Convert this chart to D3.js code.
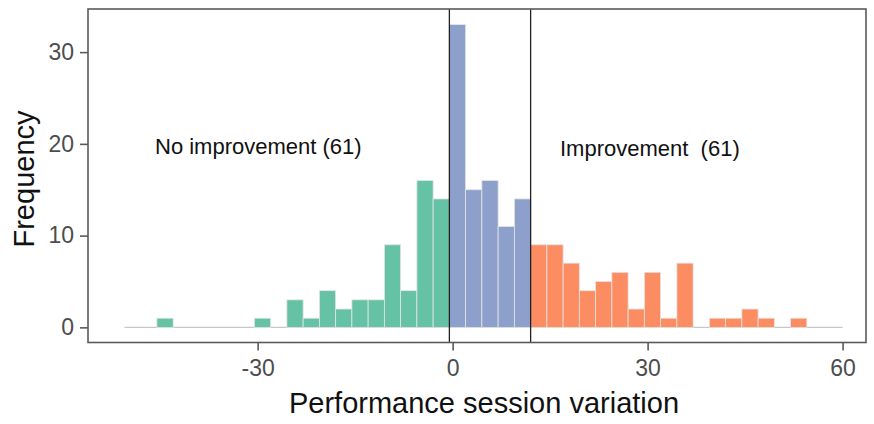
<!DOCTYPE html>
<html>
<head>
<meta charset="utf-8">
<script src="https://cdn.jsdelivr.net/npm/d3@7"></script>
<style>
  body { margin: 0; background: #fff; }
  text { font-family: "Liberation Sans", Arial, sans-serif; }
</style>
</head>
<body>
<svg id="chart"></svg>
<script>
// histogram counts, bin width 2.5
var binWidth = 2.5;
var noImpStart = -45.5;
var noImpCounts = [1, 0, 0, 0, 0, 0, 1, 0, 3, 1, 4, 2, 3, 3, 9, 4, 16, 14];
var midStart = -0.5;
var midCounts = [33, 15, 16, 11, 14];
var impStart = 12;
var impCounts = [9, 9, 7, 4, 5, 6, 2, 6, 1, 7, 0, 1, 1, 2, 1, 0, 1];

var cutoffs = [-0.5, 12];
var baseRange = [-50.5, 60];
var xTicks = [-30, 0, 30, 60];
var yTicks = [0, 10, 20, 30];

var W = 874, H = 424;
var pLeft = 88, pRight = 866, pTop = 9, pBottom = 342.5;

var svg = d3.select("#chart")
    .attr("width", W)
    .attr("height", H);

var x = d3.scaleLinear().domain([-56.1, 63.6]).range([pLeft, pRight]);
var y = d3.scaleLinear().domain([-1.65, 34.7]).range([pBottom, pTop]);

// turn each group into bins
function toBins(start, counts, color) {
    return counts.map(function(c, i) {
        return { x0: start + i * binWidth, x1: start + (i + 1) * binWidth, n: c, color: color };
    });
}
var bins = []
    .concat(toBins(noImpStart, noImpCounts, "#66c2a5"))
    .concat(toBins(midStart, midCounts, "#8da0cb"))
    .concat(toBins(impStart, impCounts, "#fc8d62"))
    .filter(function(d) { return d.n > 0; });

// zero line under the bars
svg.append("line")
    .attr("x1", x(baseRange[0]))
    .attr("x2", x(baseRange[1]))
    .attr("y1", y(0))
    .attr("y2", y(0))
    .style("stroke", "#c8c8c8")
    .style("stroke-width", 1.2);

svg.selectAll("rect.bar")
    .data(bins)
    .enter()
    .append("rect")
    .attr("class", "bar")
    .attr("x", function(d) { return x(d.x0); })
    .attr("width", function(d) { return x(d.x1) - x(d.x0); })
    .attr("y", function(d) { return y(d.n); })
    .attr("height", function(d) { return y(0) - y(d.n); })
    .style("fill", function(d) { return d.color; })
    .style("stroke", "#e4e4e4")
    .style("stroke-width", 0.8);

// group cut-off lines
svg.selectAll("line.cut")
    .data(cutoffs)
    .enter()
    .append("line")
    .attr("class", "cut")
    .attr("x1", function(d) { return x(d); })
    .attr("x2", function(d) { return x(d); })
    .attr("y1", pTop)
    .attr("y2", pBottom)
    .style("stroke", "#222")
    .style("stroke-width", 1.3);

// panel frame
svg.append("rect")
    .attr("x", pLeft)
    .attr("y", pTop)
    .attr("width", pRight - pLeft)
    .attr("height", pBottom - pTop)
    .style("fill", "none")
    .style("stroke", "#5a5a5a")
    .style("stroke-width", 1.6);

// axes
var xAxis = svg.append("g")
    .attr("transform", "translate(0," + pBottom + ")")
    .call(d3.axisBottom(x).tickValues(xTicks).tickSize(8).tickPadding(9).tickFormat(d3.format("d")));
var yAxis = svg.append("g")
    .attr("transform", "translate(" + pLeft + ",0)")
    .call(d3.axisLeft(y).tickValues(yTicks).tickSize(8).tickPadding(6).tickFormat(d3.format("d")));

[xAxis, yAxis].forEach(function(g) {
    g.select(".domain").remove();
    g.selectAll(".tick line").style("stroke", "#5a5a5a").style("stroke-width", 1.6);
    g.selectAll(".tick text")
        .style("font-size", "23px")
        .style("fill", "#4d4d4d")
        .style("font-family", "Liberation Sans, Arial, sans-serif");
});
xAxis.selectAll(".tick text").text(function(d) { return d < 0 ? "-" + Math.abs(d) : d; });

// titles
svg.append("text")
    .attr("x", 484)
    .attr("y", 413)
    .attr("text-anchor", "middle")
    .style("font-size", "29px")
    .style("fill", "#111")
    .text("Performance session variation");

svg.append("text")
    .attr("transform", "translate(34,179) rotate(-90)")
    .attr("text-anchor", "middle")
    .style("font-size", "29px")
    .style("fill", "#111")
    .text("Frequency");

// group labels
svg.append("text")
    .attr("x", 155)
    .attr("y", 154)
    .style("font-size", "22px")
    .style("fill", "#111")
    .text("No improvement (61)");

svg.append("text")
    .attr("x", 560)
    .attr("y", 155.5)
    .attr("xml:space", "preserve")
    .style("white-space", "pre")
    .style("font-size", "22px")
    .style("fill", "#111")
    .text("Improvement  (61)");
</script>
</body>
</html>
